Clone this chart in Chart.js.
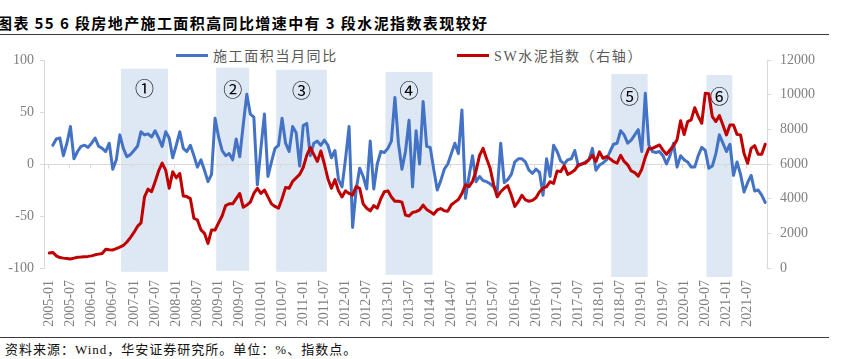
<!DOCTYPE html>
<html lang="zh-CN">
<head>
<meta charset="utf-8">
<title>图表 55</title>
<script src="https://cdn.jsdelivr.net/npm/chart.js@4.4.1/dist/chart.umd.min.js"></script>
<style>
  html, body { margin: 0; padding: 0; background: #fff; }
  body { width: 842px; height: 359px; position: relative; overflow: hidden; }
  #titulo {
    position: absolute; left: -3px; top: 12px; line-height: 20px;
    font: bold 15px "Noto Sans CJK SC", sans-serif; letter-spacing: 1.4px;
    color: #000; white-space: nowrap;
  }
  .regua { position: absolute; left: 0; width: 829px; height: 1px; background: #3a3a3a; }
  #fonte {
    position: absolute; left: 5px; top: 341px; line-height: 18px;
    font-size: 13px; font-family: "Liberation Serif", "Noto Sans CJK SC", serif;
    letter-spacing: 1px; color: #111; white-space: nowrap;
  }
  .leg { position: absolute; top: 46px; height: 18px; display: flex; align-items: center; }
  .leg i { display: block; width: 32px; height: 3px; }
  .leg span {
    margin-left: 5px; font-size: 14px; letter-spacing: 1.6px; color: #595959;
    font-family: "Liberation Serif", "Noto Sans CJK SC", serif;
  }
  #grafico { position: absolute; left: 0; top: 40px; }
</style>
</head>
<body>
<div id="titulo">图表 55 6 段房地产施工面积高同比增速中有 3 段水泥指数表现较好</div>
<div class="regua" style="top:34px"></div>
<div id="legenda"></div>
<canvas id="grafico" width="842" height="295"></canvas>
<div class="regua" style="top:337px"></div>
<div id="fonte">资料来源：Wind，华安证券研究所。单位：%、指数点。</div>

<script>
// ------------------------------------------------------------
// Categories: one per month, 2004-12 .. 2021-12
// ------------------------------------------------------------
const months = ['2004-12'];
for (let y = 2005; y <= 2021; y++) {
  for (let m = 1; m <= 12; m++) months.push(y + '-' + String(m).padStart(2, '0'));
}
const tickMonths = ['01', '07'];   // only these months get a label

// 施工面积当月同比 (%), left axis — one row per year
const areaYoY = [
  null,
  null, 18, 24, 25, 8, 20, 36, 5, 12, 17, 18, 16,              // 2005
  20, 25, 17, 15, 12, 20, -5, 4, 28, 15, 7, 9,                 // 2006
  13, 17, 31, 28, 29, 26, 32, 25, 17, 31, 25, 6,               // 2007
  18, 31, 15, 12, 18, 8, -3, 4, -6, -17, -10, 44,              // 2008
  26, 13, 8, 10, 4, 24, 7, 38, 67, 48, 45, -20,                // 2009
  15, 48, -12, 2, 15, 18, 44, 20, 12, 36, 30, -2,              // 2010
  37, 39, 8, 20, 22, 18, 23, 18, 6, 13, -15, -22,              // 2011
  5, 36, -61, -25, -4, -12, -24, 22, -24, 0, 12, 11,           // 2012
  15, 22, 64, 20, -5, 12, 42, -22, 32, 0, 60, 17,              // 2013
  16, -5, -25, -16, -5, 0, 10, 20, 10, 52, -33, -12,           // 2014
  8, -17, -12, -16, -17, -19, -22, -27, 20, -18, -15, -10,     // 2015
  2, 5, 5, 2, -6, -9, -5, -8, -30, 5, -12, 18,                 // 2016
  12, 3, 0, 4, 5, 13, -2, 0, 2, 4, 15, -6,                     // 2017
  -1, 1, 4, 12, 19, 20, 32, 28, 20, 23, 28, 33,                // 2018
  12, 68, 18, 12, 11, 12, 8, 0, 8, 20, -3, 8,                  // 2019
  4, 2, -3, -3, 8, 16, 13, -4, -2, 10, 28, 20,                 // 2020
  12, 19, -11, 2, -10, -27, -18, -11, -26, -25, -30, -37       // 2021
];

// SW水泥指数, right axis
const cementIndex = [
  null,
  870, 900, 700, 600, 570, 550, 520, 570, 620, 630, 650, 670,                 // 2005
  700, 760, 800, 840, 1080, 1050, 1040, 1120, 1200, 1300, 1500, 1750,         // 2006
  2050, 2400, 2600, 4100, 4550, 4400, 4980, 5600, 6050, 5650, 4600, 5550,     // 2007
  5200, 5450, 4150, 4120, 4000, 2870, 2770, 2200, 2000, 1420, 2190, 2190,     // 2008
  2600, 3000, 3600, 3700, 3700, 4000, 4300, 3500, 3630, 3800, 4300, 4600,     // 2009
  4300, 4500, 4100, 3700, 3550, 3450, 4000, 4650, 4600, 5000, 5200, 5400,     // 2010
  5800, 6500, 6950, 6550, 6150, 6750, 6000, 5150, 4600, 5100, 4450, 4100,     // 2011
  4450, 4300, 4200, 4700, 4600, 3700, 3450, 3300, 3600, 3450, 4000, 4400,     // 2012
  4450, 4100, 3850, 3850, 3800, 3050, 3000, 3200, 3250, 3350, 3630, 3380,     // 2013
  3250, 3100, 3350, 3430, 3300, 3280, 3650, 3800, 3950, 4300, 4800, 4700,     // 2014
  5000, 5600, 6500, 6900, 6300, 5750, 4800, 4100, 4400, 4600, 4750, 4200,     // 2015
  3550, 3830, 4200, 3930, 3850, 3900, 4050, 4400, 4600, 4700, 4980, 4880,     // 2016
  5600, 5560, 5900, 5400, 5500, 5650, 5950, 6000, 6050, 6250, 6500, 6150,     // 2017
  6700, 6330, 6430, 6300, 6140, 6050, 6500, 6150, 5950, 5600, 5500, 5300,     // 2018
  5700, 6400, 6900, 6900, 7000, 7100, 6800, 6560, 6810, 7060, 7400, 8500,     // 2019
  7700, 8450, 8550, 9250, 8750, 8350, 10080, 10050, 8730, 8450, 8790, 8250,   // 2020
  7680, 8250, 8250, 7710, 7680, 6600, 6040, 6900, 7060, 6560, 6560, 7140      // 2021
];

// Shaded periods (high YoY growth of floor space under construction)
const regionName   = ['①', '②', '③', '④', '⑤', '⑥'];
const regionStart  = ['2006-10', '2009-01', '2010-06', '2013-01', '2018-05', '2020-08'];
const regionEnd    = ['2007-10', '2009-09', '2011-07', '2014-01', '2019-02', '2021-02'];
const regionTop    = [91, 92, 90, 88, 86, 85];          // left-axis units
const regionBottom = [-103, -102, -103, -106, -108, -108];
const regionLabelAt = [72, 71, 70, 70, 65, 65];

// Axis ticks
const leftTicks  = [-100, -50, 0, 50, 100];
const rightTicks = [0, 2000, 4000, 6000, 8000, 10000, 12000];

// one floating bar per month inside a shaded period
const shade = months.map((m, i) => {
  for (let k = 0; k < regionStart.length; k++) {
    const a = months.indexOf(regionStart[k]);
    const b = months.indexOf(regionEnd[k]);
    if (i >= a && i <= b) return [regionBottom[k], regionTop[k]];
  }
  return null;
});

const AXIS_GRAY = '#d9d9d9';
const TEXT_GRAY = '#808080';
const tickFont = { family: '"Liberation Serif", serif', size: 14 };

// zero line, its small tick marks, and the circled numbers — drawn right
// after the shading so the two lines stay on top
const shadeExtras = {
  id: 'shadeExtras',
  afterDatasetDraw(chart, args) {
    if (args.index !== 0) return;
    const { ctx, chartArea, scales: { x, y } } = chart;
    const y0 = Math.round(y.getPixelForValue(0)) + 0.5;
    const step = x.getPixelForValue(1) - x.getPixelForValue(0);
    ctx.save();
    ctx.strokeStyle = AXIS_GRAY;
    ctx.lineWidth = 1;
    ctx.beginPath();
    ctx.moveTo(chartArea.left, y0);
    ctx.lineTo(chartArea.right, y0);
    months.forEach((m, i) => {
      if (!tickMonths.includes(m.slice(5))) return;
      const px = Math.round(x.getPixelForValue(i) - step / 2) + 0.5;
      ctx.moveTo(px, y0);
      ctx.lineTo(px, y0 + 4);
    });
    ctx.stroke();

    ctx.fillStyle = '#000';
    ctx.font = '19px "Noto Sans CJK SC"';
    ctx.textAlign = 'center';
    ctx.textBaseline = 'middle';
    regionName.forEach((t, k) => {
      const a = x.getPixelForValue(months.indexOf(regionStart[k]));
      const b = x.getPixelForValue(months.indexOf(regionEnd[k]));
      ctx.fillText(t, (a + b) / 2, y.getPixelForValue(regionLabelAt[k]));
    });
    ctx.restore();
  }
};

const grafico = new Chart(document.getElementById('grafico'), {
  type: 'line',
  data: {
    labels: months,
    datasets: [
      {
        type: 'bar',
        label: 'shade',
        data: shade,
        yAxisID: 'y',
        backgroundColor: '#dde8f4',
        borderWidth: 0,
        barPercentage: 1,
        categoryPercentage: 1,
        inflateAmount: 0.6,
        clip: false,
        order: 3,
      },
      {
        label: '施工面积当月同比',
        data: areaYoY,
        yAxisID: 'y',
        borderColor: '#4472C4',
        backgroundColor: '#4472C4',
        borderWidth: 3,
        pointRadius: 0,
        tension: 0,
        borderJoinStyle: 'round',
        borderCapStyle: 'round',
        order: 2,
      },
      {
        label: 'SW水泥指数（右轴）',
        data: cementIndex,
        yAxisID: 'y1',
        borderColor: '#C00000',
        backgroundColor: '#C00000',
        borderWidth: 3,
        pointRadius: 0,
        tension: 0,
        borderJoinStyle: 'round',
        borderCapStyle: 'round',
        order: 1,
      },
    ],
  },
  options: {
    responsive: false,
    animation: false,
    layout: { padding: { top: 20, left: 0, right: 0, bottom: 0 } },
    plugins: { legend: { display: false }, tooltip: { enabled: false } },
    scales: {
      x: {
        type: 'category',
        offset: true,
        grid: { display: false, drawTicks: false, offset: true },
        border: { display: false },
        ticks: {
          autoSkip: false,
          minRotation: 90,
          maxRotation: 90,
          padding: 12,
          color: TEXT_GRAY,
          font: tickFont,
          callback(v, i) {
            const m = months[i];
            return tickMonths.includes(m.slice(5)) ? m : '';
          },
        },
        afterFit(s) { s.height = 67; },
      },
      y: {
        position: 'left',
        min: leftTicks[0],
        max: leftTicks[leftTicks.length - 1],
        grid: { color: 'rgba(0,0,0,0)', tickColor: AXIS_GRAY, tickLength: 4 },
        border: { display: true, color: AXIS_GRAY },
        ticks: {
          stepSize: leftTicks[1] - leftTicks[0], padding: 6, color: TEXT_GRAY, font: tickFont,
          callback: (v) => String(v),
        },
        afterFit(s) { s.width = 44; },
      },
      y1: {
        position: 'right',
        min: rightTicks[0],
        max: rightTicks[rightTicks.length - 1],
        grid: { drawOnChartArea: false, tickColor: AXIS_GRAY, tickLength: 4 },
        border: { display: true, color: AXIS_GRAY },
        ticks: {
          stepSize: rightTicks[1] - rightTicks[0], padding: 9, color: TEXT_GRAY, font: tickFont,
          callback: (v) => String(v),   // no thousands separator
        },
        afterFit(s) { s.width = 75; },
      },
    },
  },
  plugins: [shadeExtras],
});

// legend, built from the two line datasets
const legendLeft = [176, 457];
grafico.data.datasets.slice(1).forEach((ds, k) => {
  const item = document.createElement('div');
  item.className = 'leg';
  item.style.left = legendLeft[k] + 'px';
  item.innerHTML = '<i style="background:' + ds.borderColor + '"></i><span>' + ds.label + '</span>';
  document.getElementById('legenda').appendChild(item);
});
</script>
</body>
</html>
